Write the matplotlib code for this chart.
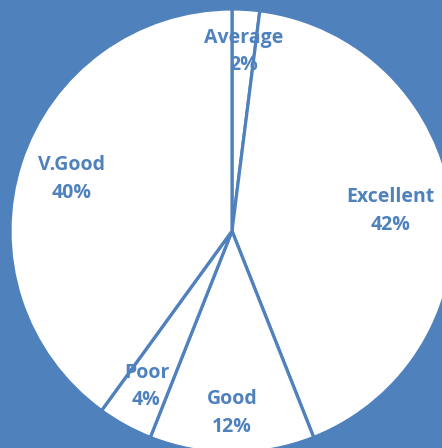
import matplotlib.pyplot as plt
import numpy as np

# datos del grafico
categorias = ['Average', 'Excellent', 'Good', 'Poor', 'V.Good']
valores = [2, 42, 12, 4, 40]
etiquetas = ['2%', '42%', '12%', '4%', '40%']

azul = '#4F81BD'
dist_etq = [0.81, 0.72, 0.82, 0.80, 0.76]  # distancia radial de cada etiqueta

fig = plt.figure(figsize=(4.42, 4.48), dpi=100)
fig.patch.set_facecolor(azul)
ax = fig.add_axes([0, 0, 1, 1])
ax.set_facecolor(azul)

wedges, _ = ax.pie(valores, startangle=90, counterclock=False,
                   colors=['white'] * len(valores),
                   wedgeprops=dict(edgecolor=azul, linewidth=2.3))

for w, cat, pct, d in zip(wedges, categorias, etiquetas, dist_etq):
    ang = np.deg2rad((w.theta1 + w.theta2) / 2)
    ax.text(d * np.cos(ang), d * np.sin(ang), cat + '\n' + pct,
            ha='center', va='center', color=azul, fontsize=14,
            fontweight='bold', family='Open Sans', linespacing=1.5)

ax.set_xlim(-232 / 222, 210 / 222)
ax.set_ylim(-217 / 222, 231 / 222)
ax.set_aspect('equal')
ax.axis('off')

fig.savefig('out.png', dpi=100, facecolor=azul)
